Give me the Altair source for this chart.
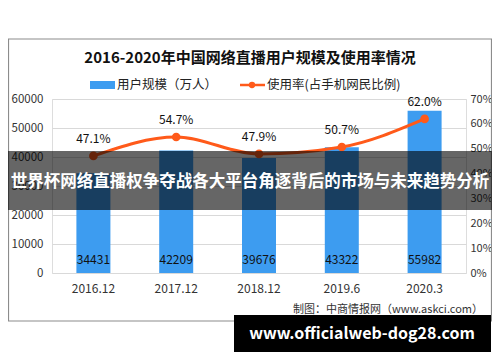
import altair as alt
import pandas as pd

categories = ["2016.12", "2017.12", "2018.12", "2019.6", "2020.3"]
users = [34431, 42209, 39676, 43322, 55982]
rates = [0.471, 0.547, 0.479, 0.507, 0.620]
rate_labels = ["47.1%", "54.7%", "47.9%", "50.7%", "62.0%"]

title_text = "2016-2020年中国网络直播用户规模及使用率情况"
legend_bar = "用户规模（万人）"
legend_line = "使用率(占手机网民比例)"
source_text = "制图：中商情报网（www.askci.com）"
banner_text = "世界杯网络直播权争夺战各大平台角逐背后的市场与未来趋势分析"
url_text = "www.officialweb-dog28.com"

FONT = "Noto Sans CJK SC"
BLUE = "#3d9cf0"
ORANGE = "#ff5a1a"

df = pd.DataFrame({"cat": categories, "users": users, "rate": rates, "rlab": rate_labels})
one = pd.DataFrame({"k": [0]})

W, H = 414, 174

xenc = alt.X("cat:N", sort=categories, title=None,
             scale=alt.Scale(paddingInner=0.2, paddingOuter=0.1),
             axis=alt.Axis(labelAngle=0, ticks=False, domain=False, labelPadding=10,
                           labelFontSize=12, labelColor="#333", labelFont=FONT))
xplain = alt.X("cat:N", sort=categories)

base = alt.Chart(df)
lscale = alt.Scale(domain=[0, 60000], nice=False)
rscale = alt.Scale(domain=[0, 0.7], nice=False)

bars = base.mark_bar(size=34, color=BLUE).encode(
    x=xenc,
    y=alt.Y("users:Q", title=None, scale=lscale,
            axis=alt.Axis(values=[0, 10000, 20000, 30000, 40000, 50000, 60000], format="d",
                          grid=True, gridColor="#d9d9d9", domain=False, ticks=False,
                          labelPadding=9, labelFontSize=11.5, labelColor="#333",
                          labelFont=FONT, orient="left")),
)
bar_text = base.mark_text(baseline="bottom", dy=-6, fontSize=12, font=FONT, color="#111").encode(
    x=xplain,
    y=alt.value(H),
    text=alt.Text("users:Q", format="d"),
)
line = base.mark_line(color=ORANGE, strokeWidth=3, interpolate="monotone").encode(
    x=xplain,
    y=alt.Y("rate:Q", title=None, scale=rscale,
            axis=alt.Axis(values=[0, 0.1, 0.2, 0.3, 0.4, 0.5, 0.6, 0.7], format=".0%",
                          grid=False, domain=False, ticks=False, orient="right",
                          labelPadding=4, labelFontSize=11, labelColor="#333", labelFont=FONT)),
)
pts = base.mark_point(filled=True, size=75, color=ORANGE, opacity=1).encode(
    x=xplain,
    y=alt.Y("rate:Q", scale=rscale, axis=None),
)
pt_text = base.mark_text(dy=-17, fontSize=12, font=FONT, color="#111").encode(
    x=xplain,
    y=alt.Y("rate:Q", scale=rscale, axis=None),
    text="rlab:N",
)


def txt(t, x, y, size, **kw):
    return alt.Chart(one).mark_text(fontSize=size, font=FONT, **kw).encode(
        x=alt.value(x), y=alt.value(y), text=alt.value(t))


def rect(x, x2, y, y2, **kw):
    return alt.Chart(one).mark_rect(**kw).encode(
        x=alt.value(x), x2=alt.value(x2), y=alt.value(y), y2=alt.value(y2))


border = rect(-43.5, 439.5, -60, 222, fill=None, stroke="#8c8c8c", strokeWidth=1.2, filled=False)
title = txt(title_text, 198, -41, 15, fontWeight="bold", color="#111")
leg_rect = rect(38, 63, -18, -10, color=BLUE)
leg_t1 = txt(legend_bar, 65, -14, 12.5, align="left", color="#222")
leg_line = alt.Chart(one).mark_rule(color=ORANGE, strokeWidth=2.5).encode(
    x=alt.value(188), x2=alt.value(213), y=alt.value(-14))
leg_pt = alt.Chart(one).mark_point(filled=True, color=ORANGE, size=40, opacity=1).encode(
    x=alt.value(200), y=alt.value(-14))
leg_t2 = txt(legend_line, 215, -14, 12.5, align="left", color="#222")
src = txt(source_text, 431, 211, 11, align="right", color="#333")
banner = rect(-44, 440, 52, 111, color="#000", opacity=0.6)
banner_t = txt(banner_text, 198, 83, 16.5, fontWeight="bold", color="#fff")
pill = rect(182, 439, 216, 253, color="#000")
pill_t = txt(url_text, 310, 235, 16, fontWeight="bold", color="#fff")

chart = alt.layer(
    border, title, leg_rect, leg_t1, leg_line, leg_pt, leg_t2,
    bars, bar_text, line, pts, pt_text,
    src, banner, banner_t, pill, pill_t
).resolve_scale(y="independent").properties(
    width=W, height=H,
    autosize=alt.AutoSizeParams(type="none"),
    padding={"left": 44, "right": 26, "top": 91, "bottom": 81},
).configure_view(stroke=None).configure(background="white")

chart.save("out.html", embed_options={"renderer": "svg", "actions": False})
